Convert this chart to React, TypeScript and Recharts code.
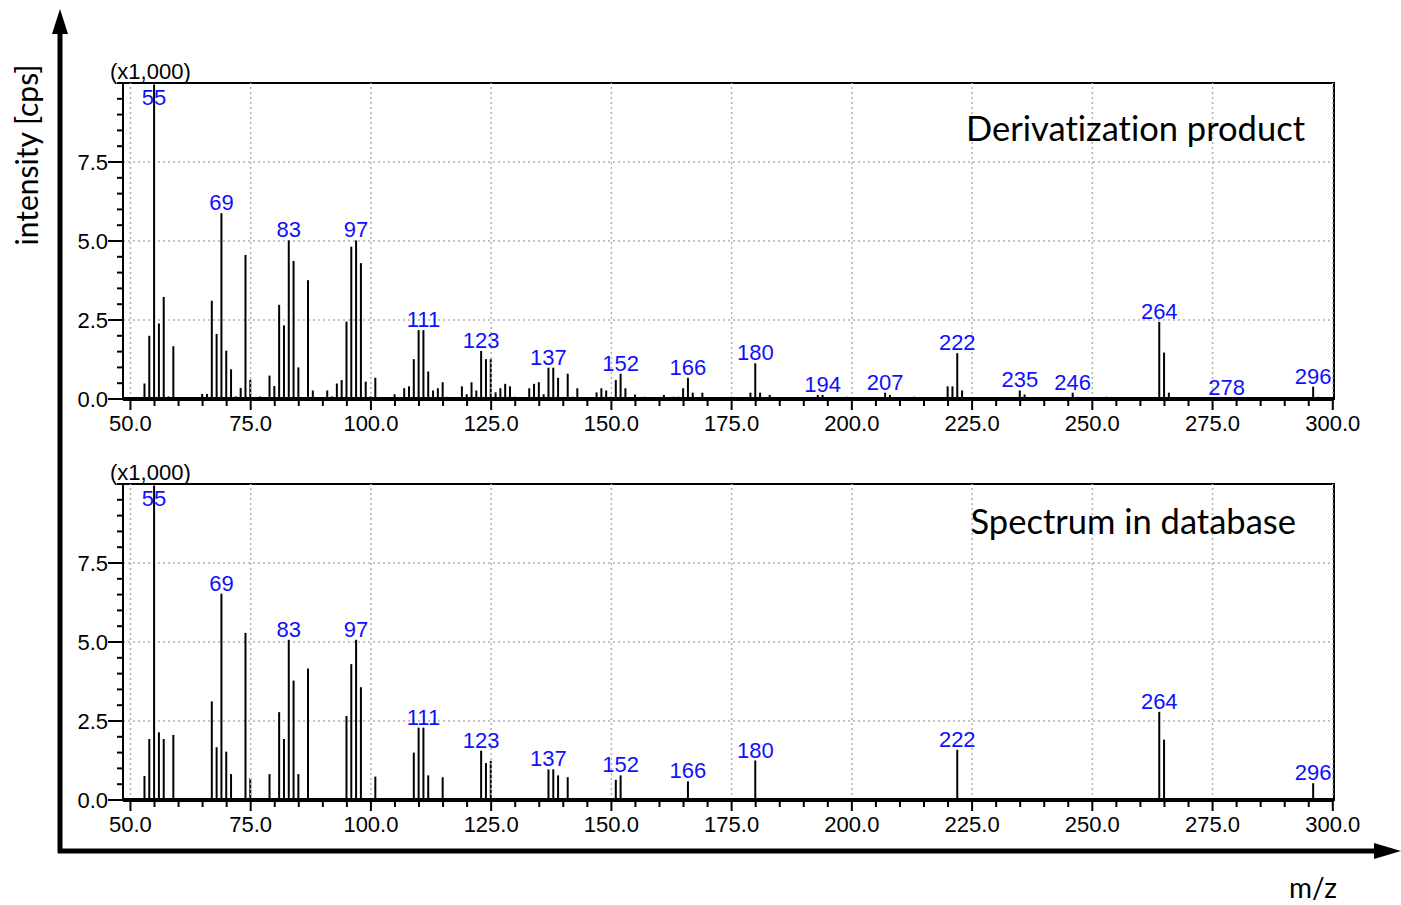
import React from "react";
import {
  ComposedChart,
  Bar,
  XAxis,
  YAxis,
  CartesianGrid,
  ReferenceLine,
  ReferenceArea,
  LabelList,
} from "recharts";

// ---------- data ----------
const topMz = [
  53, 54, 55, 56, 57, 58, 59, 65, 66, 67, 68, 69, 70, 71, 72, 73, 74, 75, 77, 79, 80, 81, 82, 83, 84, 85, 87, 88,
  91, 92, 93, 94, 95, 96, 97, 98, 99, 100, 101, 105, 107, 108, 109, 110, 111, 112, 113, 114, 115, 116, 119, 120,
  121, 122, 123, 124, 125, 126, 127, 128, 129, 130, 133, 134, 135, 136, 137, 138, 139, 141, 142, 143, 147, 148,
  149, 150, 151, 152, 153, 155, 157, 161, 163, 164, 165, 166, 167, 169, 175, 179, 180, 181, 183, 193, 194, 199,
  207, 208, 213, 220, 221, 222, 223, 235, 236, 246, 247, 253, 264, 265, 266, 278, 296, 297,
];
const topIntensity = [
  0.49, 2.0, 9.95, 2.39, 3.23, 0.08, 1.67, 0.16, 0.16, 3.11, 2.06, 5.88, 1.53, 0.94, 0.08, 0.35, 4.56, 0.61, 0.08,
  0.74, 0.41, 2.98, 2.33, 5.02, 4.37, 1.0, 3.76, 0.27, 0.27, 0.08, 0.49, 0.6, 2.45, 4.82, 5.02, 4.3, 0.55, 0.08,
  0.67, 0.15, 0.34, 0.4, 1.26, 2.18, 2.18, 0.87, 0.27, 0.34, 0.53, 0.07, 0.4, 0.15, 0.53, 0.27, 1.52, 1.26, 1.26,
  0.21, 0.34, 0.48, 0.4, 0.07, 0.34, 0.48, 0.53, 0.15, 0.99, 0.99, 0.67, 0.8, 0.07, 0.34, 0.21, 0.34, 0.27, 0.07,
  0.6, 0.8, 0.34, 0.14, 0.07, 0.13, 0.07, 0.07, 0.34, 0.67, 0.2, 0.2, 0.07, 0.2, 1.13, 0.2, 0.13, 0.13, 0.13, 0.07,
  0.2, 0.13, 0.07, 0.4, 0.4, 1.45, 0.27, 0.27, 0.14, 0.2, 0.07, 0.07, 2.44, 1.47, 0.2, 0.04, 0.39, 0.07,
];
const topLabels = [55, 69, 83, 97, 111, 123, 137, 152, 166, 180, 194, 207, 222, 235, 246, 264, 278, 296];

const bottomMz = [
  53, 54, 55, 56, 57, 59, 67, 68, 69, 70, 71, 74, 75, 79, 81, 82, 83, 84, 85, 87, 95, 96, 97, 98, 101, 109, 110,
  111, 112, 115, 123, 124, 125, 137, 138, 139, 141, 151, 152, 166, 180, 222, 264, 265, 296,
];
const bottomIntensity = [
  0.76, 1.93, 9.95, 2.14, 1.93, 2.06, 3.12, 1.67, 6.53, 1.53, 0.82, 5.29, 0.69, 0.82, 2.78, 1.93, 5.07, 3.78, 0.82,
  4.16, 2.66, 4.3, 5.07, 3.57, 0.74, 1.5, 2.29, 2.29, 0.78, 0.72, 1.56, 1.17, 1.24, 0.97, 0.97, 0.78, 0.72, 0.64,
  0.78, 0.59, 1.25, 1.59, 2.79, 1.91, 0.53,
];
const bottomLabels = [55, 69, 83, 97, 111, 123, 137, 152, 166, 180, 222, 264, 296];

const xMajorTicks = [50, 75, 100, 125, 150, 175, 200, 225, 250, 275, 300];
const xMinorStep = 5;
const yMajorTicks = [0, 2.5, 5, 7.5];
const yGridTicks = [2.5, 5, 7.5];
const yMinorStep = 0.5;
const xDomain: [number, number] = [48.45, 300.25];
const yDomain: [number, number] = [0, 10];

const xAllTicks: number[] = [];
for (let v = 50; v <= 300; v += xMinorStep) xAllTicks.push(v);
const yAllTicks: number[] = [];
for (let v = 0; v <= 10.001; v += yMinorStep) yAllTicks.push(Math.round(v * 10) / 10);

const build = (mz: number[], vals: number[], labels: number[]) =>
  mz.map((m, i) => ({ mz: m, v: vals[i], label: labels.includes(m) ? String(m) : undefined }));

const topData = build(topMz, topIntensity, topLabels);
const bottomData = build(bottomMz, bottomIntensity, bottomLabels);

// ---------- styling ----------
const FONT = "'Liberation Sans', Arial, sans-serif";
const TITLE_FONT = "Lato, 'Open Sans', sans-serif";
const GRID = "#b0b0b0";
const X_AXIS_H = 40;
const Y_AXIS_W = 60;
const MARGIN = { top: 83, right: 67, bottom: 1, left: 123 - Y_AXIS_W };
const CHART_W = 1401;
const CHART_H = 440;

const XTick = (props: any) => {
  const { x, y, payload } = props;
  const v = payload.value;
  const major = xMajorTicks.includes(v);
  return (
    <g>
      <line x1={x} x2={x} y1={y + 2} y2={y + (major ? 11 : 7)} stroke="#000" strokeWidth={2} />
      {major && (
        <text x={x} y={y + 32} textAnchor="middle" fontFamily={FONT} fontSize={22} fill="#000">
          {v.toFixed(1)}
        </text>
      )}
    </g>
  );
};

const YTick = (props: any) => {
  const { x, y, payload } = props;
  const v = payload.value;
  const major = yMajorTicks.includes(v);
  return (
    <g>
      <line x1={x - (major ? 15 : 6)} x2={x} y1={y} y2={y} stroke="#000" strokeWidth={2} />
      {major && (
        <text x={x - 15} y={y + 8} textAnchor="end" fontFamily={FONT} fontSize={22} fill="#000">
          {v.toFixed(1)}
        </text>
      )}
    </g>
  );
};

const PeakLabel = (props: any) => {
  const { x, y, width, value } = props;
  if (value === undefined || value === null) return null;
  const baseline = Math.max(Number(y) - 3, MARGIN.top + 22);
  return (
    <text
      x={Number(x) + Number(width) / 2}
      y={baseline}
      textAnchor="middle"
      fontFamily={FONT}
      fontSize={22}
      fill="#1010ff"
    >
      {value}
    </text>
  );
};

const Spectrum = ({ data }: { data: any[] }) => (
  <ComposedChart width={CHART_W} height={CHART_H} data={data} margin={MARGIN}>
    <CartesianGrid
      yAxisId="grid"
      vertical={false}
      stroke={GRID}
      strokeWidth={1.5}
      strokeDasharray="2 3"
    />
    <YAxis
      yAxisId="grid"
      type="number"
      domain={yDomain}
      allowDataOverflow
      ticks={yGridTicks}
      interval={0}
      hide
    />
    <XAxis
      dataKey="mz"
      type="number"
      domain={xDomain}
      allowDataOverflow
      ticks={xAllTicks}
      interval={0}
      tickSize={0}
      tickMargin={0}
      tick={<XTick />}
      tickLine={false}
      axisLine={{ stroke: "#000", strokeWidth: 4 }}
      height={X_AXIS_H}
    />
    <YAxis
      type="number"
      domain={yDomain}
      allowDataOverflow
      ticks={yAllTicks}
      interval={0}
      tickSize={0}
      tickMargin={0}
      tick={<YTick />}
      tickLine={false}
      axisLine={{ stroke: "#000", strokeWidth: 2 }}
      width={Y_AXIS_W}
    />
    {xMajorTicks.map((v) => (
      <ReferenceLine key={"gx" + v} x={v} stroke={GRID} strokeWidth={1.5} strokeDasharray="2 3" />
    ))}
    <ReferenceArea
      x1={xDomain[0]}
      x2={xDomain[1]}
      y1={yDomain[0]}
      y2={yDomain[1]}
      fill="none"
      fillOpacity={0}
      stroke="#000"
      strokeWidth={2}
    />
    <Bar dataKey="v" fill="#000" barSize={2} isAnimationActive={false}>
      <LabelList dataKey="label" content={<PeakLabel />} />
    </Bar>
  </ComposedChart>
);

export default function App() {
  return (
    <div style={{ position: "absolute", left: 0, top: 0, width: 1401, height: 905, background: "#fff" }}>
      <div style={{ position: "absolute", left: 0, top: 0 }}>
        <Spectrum data={topData} />
      </div>
      <div style={{ position: "absolute", left: 0, top: 401 }}>
        <Spectrum data={bottomData} />
      </div>
      <svg
        width={1401}
        height={905}
        style={{ position: "absolute", left: 0, top: 0, pointerEvents: "none" }}
      >
        {/* big axes */}
        <line x1={60} y1={30} x2={60} y2={853} stroke="#000" strokeWidth={5} />
        <polygon points="52,34 68,34 60,9" fill="#000" />
        <line x1={58} y1={851} x2={1378} y2={851} stroke="#000" strokeWidth={5} />
        <polygon points="1374,843 1374,859 1401,851" fill="#000" />
        <text
          x={38}
          y={155}
          transform="rotate(-90 38 155)"
          textAnchor="middle"
          fontFamily={TITLE_FONT}
          fontSize={30}
          fill="#000"
          style={{ fontVariantLigatures: "none" }}
        >
          intensity [cps]
        </text>
        <text x={1313} y={898} textAnchor="middle" fontFamily={TITLE_FONT} fontSize={28} fill="#000">
          m/z
        </text>
        <text x={110} y={79} fontFamily={FONT} fontSize={22} fill="#000">
          (x1,000)
        </text>
        <text x={110} y={480} fontFamily={FONT} fontSize={22} fill="#000">
          (x1,000)
        </text>
        <text
          x={1305}
          y={141}
          textAnchor="end"
          fontFamily={TITLE_FONT}
          fontSize={34.5}
          fill="#000"
          style={{ fontVariantLigatures: "none" }}
        >
          Derivatization product
        </text>
        <text
          x={1296}
          y={534}
          textAnchor="end"
          fontFamily={TITLE_FONT}
          fontSize={34.5}
          fill="#000"
          style={{ fontVariantLigatures: "none" }}
        >
          Spectrum in database
        </text>
      </svg>
    </div>
  );
}
